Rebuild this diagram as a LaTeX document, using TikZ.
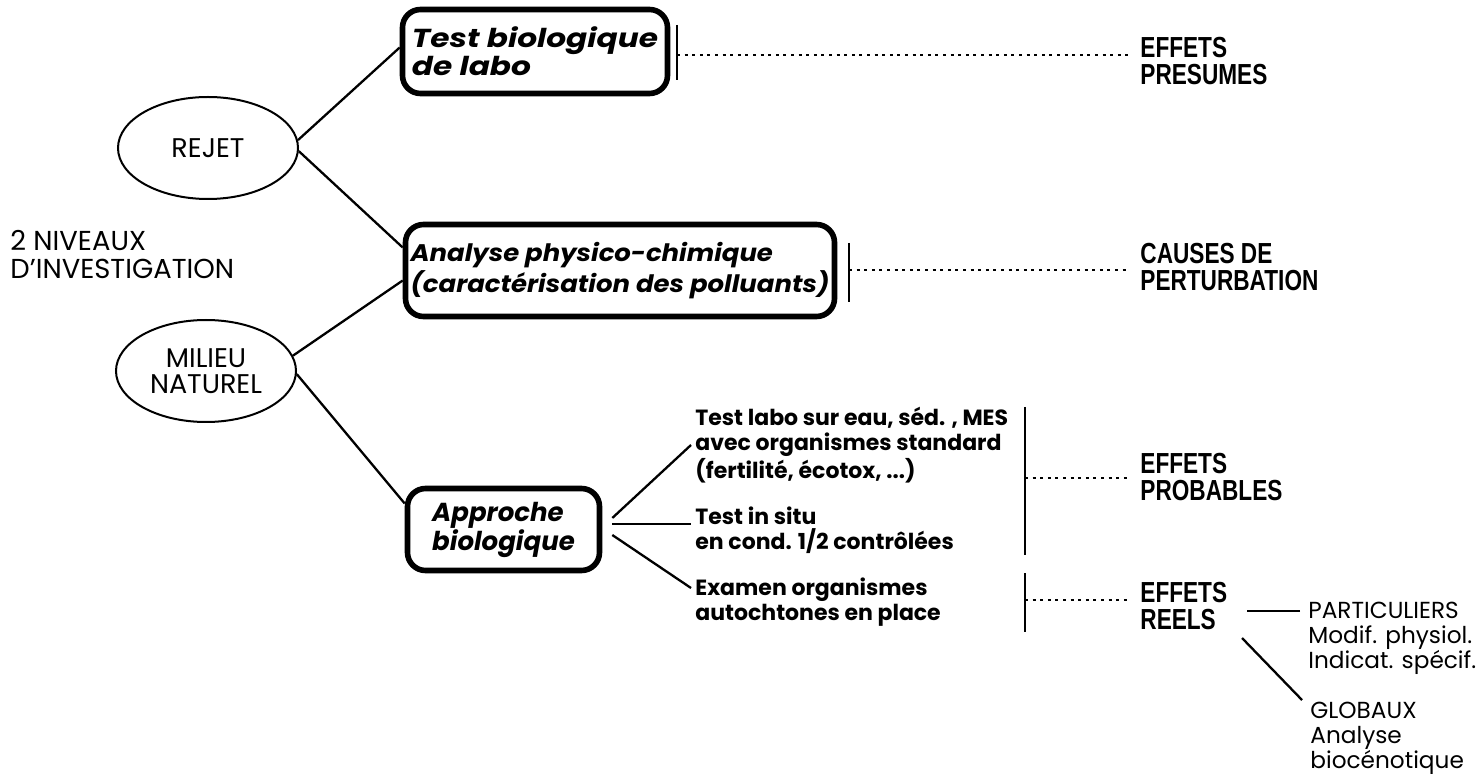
\documentclass[tikz,border=0pt]{standalone}
\usepackage{fontspec}
\setmainfont{Poppins}
\newfontfamily\condb[FakeStretch=0.78]{Liberation Sans}
\newfontfamily\wideA[FakeStretch=1.2]{Poppins}
\newfontfamily\wideB[FakeStretch=1.08]{Poppins}
\usetikzlibrary{shapes.geometric}
\tikzset{
 ell/.style={ellipse, draw, line width=1pt, minimum width=90pt, minimum height=51pt, inner sep=0pt, align=center, font=\fontsize{13.5}{13}\selectfont},
 bigbox/.style={draw, line width=2.8pt, rounded corners=9pt, align=left, inner sep=0pt, font=\bfseries\itshape\fontsize{12}{12}\selectfont},
 conn/.style={line width=1.15pt},
 brack/.style={line width=1.2pt},
 dotline/.style={line width=1.4pt, dash pattern=on 1.5pt off 2.3pt},
 eff/.style={anchor=west, align=left, inner sep=0pt, inner xsep=6pt, font=\condb\bfseries\fontsize{14.5}{13.5}\selectfont},
 subtxt/.style={anchor=west, align=left, inner sep=0pt, inner xsep=2pt, font=\bfseries\fontsize{11}{12.5}\selectfont},
 plaintxt/.style={anchor=west, align=left, inner sep=0pt, font=\fontsize{11.6}{12.5}\selectfont},
}
\begin{document}
\begin{tikzpicture}[x=0.5pt,y=-0.5pt]
\useasboundingbox (0,0) rectangle (1481,774);
% ellipses
\node[ell] (rejet) at (208,148) {REJET};
\node[ell] (milieu) at (206,371) {MILIEU\\NATUREL};
\node[plaintxt, font=\fontsize{13.7}{14}\selectfont] (niv) at (10,255) {2 NIVEAUX\\D'INVESTIGATION};
% boxes
\node[bigbox, minimum width=132.5pt, minimum height=42pt, font=\wideA\bfseries\itshape\fontsize{13}{12}\selectfont] (box1) at (535,51.5) {Test biologique\\de labo};
\node[bigbox, minimum width=214.5pt, minimum height=46pt, font=\wideB\bfseries\itshape\fontsize{12}{13}\selectfont] (box2) at (620,270.5) {Analyse physico-chimique\\(caractérisation des polluants)};
\node[bigbox, minimum width=96pt, minimum height=41pt, font=\bfseries\itshape\fontsize{13}{14.5}\selectfont] (box3) at (503.5,529.5) {Approche\\biologique};
% connectors from ellipses
\draw[conn] (rejet.5) -- ([yshift=2pt]box1.west);
\draw[conn] (rejet.-2) -- ([yshift=11.5pt]box2.west);
\draw[conn] (milieu.10) -- ([yshift=-5pt]box2.west);
\draw[conn] (milieu.-2) -- ([yshift=13pt]box3.west);
% sub texts
\node[subtxt] (t1) at (691,445) {Test labo sur eau, séd. , MES\\avec organismes standard\\(fertilité, écotox, ...)};
\node[subtxt] (t2) at (691,530) {Test in situ\\en cond. 1/2 contrôlées};
\node[subtxt] (t3) at (691,602) {Examen organismes\\autochtones en place};
\draw[conn] ([xshift=5pt,yshift=5.75pt]box3.east) -- (t1.west);
\draw[conn] ([xshift=5pt,yshift=2.75pt]box3.east) -- ([yshift=3pt]t2.west);
\draw[conn] ([xshift=5pt,yshift=-2.75pt]box3.east) -- ([yshift=7pt]t3.west);
% brackets
\coordinate (b1t) at (677,25); \coordinate (b1b) at (677,80); \coordinate (b1m) at (677,55);
\coordinate (b2t) at (849,243); \coordinate (b2b) at (849,302); \coordinate (b2m) at (849,270);
\coordinate (b3t) at (1025,407); \coordinate (b3b) at (1025,555); \coordinate (b3m) at (1025,478);
\coordinate (b4t) at (1025,573); \coordinate (b4b) at (1025,632); \coordinate (b4m) at (1025,600);
\draw[brack] (b1t) -- (b1b);
\draw[brack] (b2t) -- (b2b);
\draw[brack] (b3t) -- (b3b);
\draw[brack] (b4t) -- (b4b);
% effects
\node[eff] (pres) at (1128,61) {EFFETS\\PRESUMES};
\node[eff] (caus) at (1128,267) {CAUSES DE\\PERTURBATION};
\node[eff] (prob) at (1128,477) {EFFETS\\PROBABLES};
\node[eff] (reel) at (1128,606) {EFFETS\\REELS};
\draw[dotline] (b1m) -- (b1m -| pres.west);
\draw[dotline] (b2m) -- (b2m -| caus.west);
\draw[dotline] (b3m) -- (b3m -| prob.west);
\draw[dotline] (b4m) -- (b4m -| reel.west);
% right branches
\node[plaintxt] (part) at (1308,638) {PARTICULIERS\\Modif. physiol.\\Indicat. spécif.};
\node[plaintxt] (glob) at (1310,738) {GLOBAUX\\Analyse\\biocénotique};
\draw[conn] ([yshift=13.5pt,xshift=-4pt]part.west) -- ++(-53,0);
\draw[conn] ([yshift=19pt,xshift=-4pt]glob.west) -- ++(-60,-62);
\end{tikzpicture}
\end{document}
